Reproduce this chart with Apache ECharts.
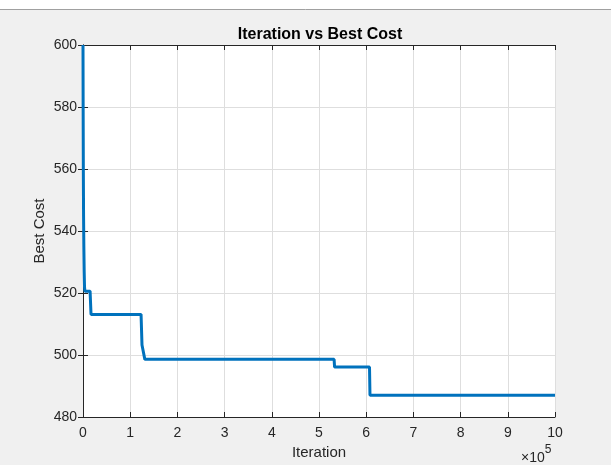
<!DOCTYPE html>
<html><head><meta charset="utf-8">
<script src="https://cdn.jsdelivr.net/npm/echarts@6/dist/echarts.min.js"></script>
<style>html,body{margin:0;padding:0;background:#f0f0f0;}#c{width:611px;height:465px;}</style>
</head><body><div id="c"></div>
<script>
var iterations = [0, 300, 700, 1200, 1800, 2500, 3200, 4000, 15000, 17000, 123000, 125000, 129000, 131000, 532000, 533000, 607000, 608000, 1000000];
var bestCost  = [600, 580, 560, 545, 535, 527, 522, 520.6, 520.6, 513.1, 513.1, 503.2, 503.2, 498.6, 498.6, 496.1, 496.1, 487.0, 487.0];
var xTicks = [0,1,2,3,4,5,6,7,8,9,10];
var yTicks = [480,500,520,540,560,580,600];

var data = iterations.map(function(x,i){return [x,bestCost[i]];});
var chart = echarts.init(document.getElementById('c'));
var axisCol = '#262626';
var font = 'Liberation Sans, Arial, sans-serif';
function tick(){ return {show: true, inside: true, length: 5, lineStyle: {color: axisCol, width: 1}}; }
chart.setOption({
  backgroundColor: '#f0f0f0',
  animation: false,
  title: {text: 'Iteration vs Best Cost', left: 315, top: 22, textAlign: 'center',
    textStyle: {fontFamily: font, fontWeight: 'bold', fontSize: 16, color: '#000'}},
  grid: {left: 83, right: 56, top: 45, bottom: 48, show: true, backgroundColor: '#fff', borderWidth: 0},
  xAxis: [{type: 'value', min: 0, max: 1000000, interval: 100000,
    name: 'Iteration', nameLocation: 'middle', nameGap: 28, nameMoveOverlap: false,
    nameTextStyle: {fontFamily: font, fontSize: 15, color: axisCol},
    axisLine: {show: true, onZero: false, lineStyle: {color: axisCol, width: 1}},
    axisTick: tick(),
    axisLabel: {fontFamily: font, fontSize: 14, color: axisCol, margin: 9,
      formatter: function(v){return String(Math.round(v/100000));}},
    splitLine: {show: true, lineStyle: {color: '#dedede', width: 1}}},
   {type: 'value', position: 'top', min: 0, max: 1000000, interval: 100000,
    axisLine: {show: true, lineStyle: {color: axisCol, width: 1}},
    axisTick: tick(),
    axisLabel: {show: false}, splitLine: {show: false}}],
  yAxis: [{type: 'value', min: 480, max: 600, interval: 20,
    name: 'Best Cost', nameLocation: 'middle', nameGap: 36, nameMoveOverlap: false,
    nameTextStyle: {fontFamily: font, fontSize: 15, color: axisCol},
    axisLine: {show: true, onZero: false, lineStyle: {color: axisCol, width: 1}},
    axisTick: tick(),
    axisLabel: {fontFamily: font, fontSize: 14, color: axisCol, margin: 6},
    splitLine: {show: true, lineStyle: {color: '#dedede', width: 1}}},
   {type: 'value', position: 'right', min: 480, max: 600, interval: 20,
    axisLine: {show: true, lineStyle: {color: axisCol, width: 1}},
    axisTick: tick(),
    axisLabel: {show: false}, splitLine: {show: false}}],
  graphic: [
    {type: 'rect', shape: {x: 0, y: 0, width: 611, height: 9}, style: {fill: '#ffffff'}, z: -1},
    {type: 'line', shape: {x1: 0, y1: 9.5, x2: 611, y2: 9.5}, style: {stroke: '#a0a0a0', lineWidth: 1}},
    {type: 'text', x: 521, y: 444, style: {
      text: '{a|×10}{b|5}', rich: {
        a: {fontFamily: font, fontSize: 14, fill: axisCol, padding: [7,0,0,0]},
        b: {fontFamily: font, fontSize: 12, fill: axisCol, verticalAlign: 'top', padding: [0,0,7,0]}}}}
  ],
  series: [{type: 'line', data: data, showSymbol: false, symbol: 'none',
    lineStyle: {color: '#0072BD', width: 3}, clip: true}]
});
</script></body></html>
